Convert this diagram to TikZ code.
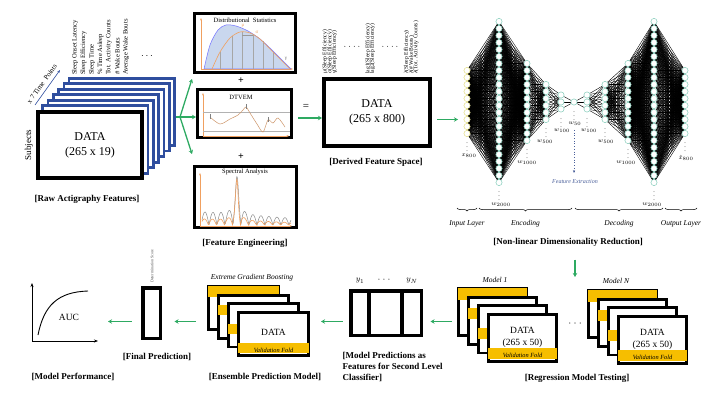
\documentclass[tikz,border=0pt]{standalone}
\usepackage{fontspec}
\setmainfont{Liberation Serif}
\usetikzlibrary{arrows.meta,calc,positioning,decorations.pathreplacing}
\pgfdeclarelayer{bg}
\pgfdeclarelayer{fg}
\pgfsetlayers{bg,main,fg}
\definecolor{arrowgreen}{HTML}{2EAA62}
\definecolor{stackblue}{HTML}{2F4E9E}
\definecolor{foldyellow}{HTML}{F6BE00}
\definecolor{nncyan}{HTML}{86CDBB}
\definecolor{nnyellow}{HTML}{E3DE84}
\definecolor{plotorange}{HTML}{F0A060}
\definecolor{plotblue}{HTML}{C9D7EE}
\definecolor{featblue}{HTML}{4A5F9A}
\tikzset{
    thickbox/.style={draw, line width=3.5pt, fill=white, inner sep=0pt},
    rawlayer/.style={draw=stackblue, line width=2.6pt, fill=white, inner sep=0pt, minimum width=105.4pt, minimum height=67.4pt},
    panel/.style={draw, line width=3pt, fill=white, inner sep=0pt},
    foldbox/.style={draw, line width=2.8pt, fill=white, inner sep=0pt},
    caption/.style={font=\bfseries\fontsize{9}{11}\selectfont},
    featlab/.style={rotate=90, anchor=west, inner sep=0pt, font=\fontsize{6.6}{7}\selectfont},
    derlab/.style={rotate=90, anchor=west, inner sep=0pt, font=\fontsize{5.6}{6}\selectfont},
    garrow/.style={draw=arrowgreen, line width=1.3pt, -{Stealth[length=4pt,width=4.5pt]}},
    neuron/.style={circle, draw=nncyan, fill=white, line width=0.5pt, minimum size=6.2pt, inner sep=0pt},
    inneuron/.style={neuron, draw=nnyellow},
    edge/.style={line width=0.4pt, black},
    layerlab/.style={inner sep=0pt, font=\fontsize{6}{7}\selectfont},
    bracelab/.style={font=\itshape\fontsize{7.5}{9}\selectfont},
    ax/.style={draw=plotorange, line width=0.5pt, -{Stealth[length=2.5pt]}},
    smalltitle/.style={inner sep=0pt, font=\fontsize{6.5}{7}\selectfont},
    foldlab/.style={inner sep=0pt, font=\itshape\fontsize{6.3}{7}\selectfont},
    modellab/.style={font=\itshape\fontsize{7.5}{8}\selectfont},
}

\begin{document}
\begin{tikzpicture}[x=1pt,y=-1pt]
    \useasboundingbox (0,0) rectangle (720,393);

    % raw actigraphy features
    \foreach \k in {6,5,...,1}
        \node[rawlayer] (raw\k) at ({90+5.3*\k},{145-5.5*\k}) {};
    \node[thickbox, line width=4pt, minimum width=104pt, minimum height=66pt, align=center, font=\fontsize{12}{15}\selectfont] (raw) at (90,145) {DATA\\(265 x 19)};
    \foreach \lab [count=\i] in {Sleep Onset Latency, Sleep Efficiency, Sleep Time, \% Time Asleep, Tot. Activity Counts, \# Wake Bouts, Average Wake Bouts}
        \node[featlab] (feat\i) at ({66.5+8.5*\i},75) {\lab};
    \node[font=\fontsize{10}{10}\selectfont] (rawdots) at (147,56) {$\cdots$};
    \node[rotate=90, font=\fontsize{9}{10}\selectfont] (subj) at (29,145) {Subjects};
    \draw[stackblue, line width=0.6pt, -{Stealth[length=3pt]}] ($(raw.north west)+(-1,-5)$) -- ++(25,-35);
    \node[rotate=54.5, font=\fontsize{7}{8}\selectfont] (tpts) at (42,84) {x 7 Time\ \ Points};
    \node[caption] (rawcap) at (87,199) {[Raw Actigraphy Features]};

    % feature engineering
    \node[panel, minimum width=101pt, minimum height=59pt] (dist) at (245,43) {};
    \node[panel, minimum width=94pt, minimum height=48pt] (dtv) at (244.5,113.5) {};
    \node[panel, minimum width=102pt, minimum height=61pt] (spec) at (245.5,197) {};

    \draw[ax] (201,69) -- (201,18);
    \draw[ax] (201,69) -- (293,69);
    \filldraw[fill=plotblue, draw=blue!55, line width=0.5pt] plot[smooth] coordinates {(204,69) (210,45) (218,30) (226,25) (236,26) (248,31) (260,39) (272,50) (283,61) (291,69)} -- cycle;
    \foreach \vx/\vy in {220/52,232/36,242/32,253/34,263/41,273/52}
        \draw[black!35, line width=0.4pt] (\vx,69) -- (\vx,\vy);
    \draw[plotorange, line width=0.6pt] plot[smooth] coordinates {(212,69) (220,52) (230,38) (240,32) (250,33) (260,39) (272,51) (283,62) (290,69)};
    \draw[black!40, line width=0.4pt] (242,35) -- (253,35);
    \node[inner sep=0pt, text=plotorange, font=\fontsize{5}{5}\selectfont] (mu) at (243,26) {μ};
    \node[inner sep=0pt, text=plotorange, font=\fontsize{5}{5}\selectfont] (sig) at (257,32) {σ};
    \node[inner sep=0pt, text=black!60, font=\fontsize{5}{5}\selectfont] (gam) at (286,59) {γ};
    \node[smalltitle] (distT) at (245,20) {Distributional\ \ Statistics};

    \draw[ax] (203,136) -- (203,93);
    \draw[ax] (203,136) -- (289,136);
    \draw[black!30, line width=0.4pt] (203,112) -- (290,112);
    \draw[black!30, line width=0.4pt] (203,131) -- (290,131);
    \draw[plotorange!70!gray, line width=0.5pt] plot[smooth] coordinates {(210,117) (220,124) (230,119) (238,115) (243,110) (246,107) (250,113) (257,124) (263,132) (268,120) (273,123) (278,118) (285,127)};
    \foreach \tx/\ty in {210/117,246/107,268/120}
        \draw[black!50, line width=0.4pt] (\tx,\ty-2.5) -- (\tx,\ty+2.5);
    \node[smalltitle] (dtvT) at (241,97) {DTVEM};

    \draw[ax] (200,226) -- (200,173);
    \draw[ax] (200,226) -- (292,226);
    \draw[black!45, line width=0.5pt] plot[domain=202:291, samples=200, smooth] (\x,{225-(13-0.07*(\x-202)+38/(1+((\x-237)/2.5)^2))*abs(sin(22.5*(\x-201)))});
    \draw[plotorange, line width=0.6pt] plot[domain=202:291, samples=200, smooth] (\x,{225-(6-0.04*(\x-202)+42/(1+((\x-237)/2)^2))*abs(sin(22.5*(\x-201)+12))});
    \node[smalltitle] (specT) at (245,172) {Spectral Analysis};

    \node[font=\bfseries\fontsize{10}{10}\selectfont] (plus1) at (241,81) {+};
    \node[font=\bfseries\fontsize{10}{10}\selectfont] (plus2) at (241,157) {+};
    \node[caption] (fecap) at (245,243) {[Feature Engineering]};

    \coordinate (fork) at (180,117);
    \draw[draw=arrowgreen, line width=1.3pt] (raw6.east |- fork) -- (fork);
    \draw[garrow] (fork) -- ($(dist.south west)+(-1,5)$);
    \draw[garrow] (fork) -- (dtv.west |- fork);
    \draw[garrow] (fork) -- ($(spec.north west)+(-1,-11)$);

    % derived feature space
    \node[thickbox, line width=4pt, minimum width=106pt, minimum height=67pt, align=center, font=\fontsize{12}{15}\selectfont] (der) at (377,112.5) {DATA\\(265 x 800)};
    \foreach \lab/\lx [count=\i] in {μ(Sleep Efficiency)/325, σ(Sleep Efficiency)/330, γ(Sleep Efficiency)/334.5, lag1(Sleep Efficiency)/368, lag2(Sleep Efficiency)/372.5, λ(Sleep Efficiency)/406.5, λ(\# Wake Bouts)/411.5, λ(Tot. Activity Counts)/416}
        \node[derlab] (dlab\i) at (\lx,74) {\lab};
    \node[font=\fontsize{8}{8}\selectfont] (ddots1) at (352,48) {·\ ·\ ·\ ·};
    \node[font=\fontsize{8}{8}\selectfont] (ddots2) at (390,48) {·\ ·\ ·\ ·};
    \node[font=\fontsize{11}{11}\selectfont] (eq) at (306,107) {=};
    \coordinate (eqrow) at (0,118);
    \draw[garrow, shorten <=5pt] (dtv.east |- eqrow) -- (der.west |- eqrow);
    \node[caption] (dercap) at (376,162) {[Derived Feature Space]};

    % autoencoder
    \foreach \l/\lx/\ln/\lsty/\lname/\ldx/\ldy in {0/467/10/inneuron/{x_{800}}/2/22, 1/499/24/neuron/{w_{2000}}/2/22, 2/527/12/neuron/{w_{1000}}/0/22, 3/546/6/neuron/{w_{500}}/-1/22, 4/561/3/neuron/{w_{100}}/1/22, 5/574/1/neuron/{w_{50}}/1/22, 6/587/3/neuron/{w_{100}}/2/22, 7/605/6/neuron/{w_{500}}/1/22, 8/628/12/neuron/{w_{1000}}/-2/22, 9/654/24/neuron/{w_{2000}}/-2/22, 10/685/10/neuron/{\hat{x}_{800}}/1/24} {
        \foreach \i in {1,...,\ln}
            \node[\lsty] (n\l-\i) at (\lx,{102+(\i-(\ln+1)/2)*7}) {};
        \node[layerlab] (dots\l) at (\lx,{102+(\ln-1)*3.5+11}) {$\vdots$};
        \node[layerlab] (lab\l) at ({\lx+\ldx},{102+(\ln-1)*3.5+\ldy}) {$\lname$};
    }
    \begin{pgfonlayer}{bg}
        \foreach \a/\na/\b/\nb in {0/10/1/24, 1/24/2/12, 2/12/3/6, 3/6/4/3, 4/3/5/1, 5/1/6/3, 6/3/7/6, 7/6/8/12, 8/12/9/24, 9/24/10/10}
            \foreach \i in {1,...,\na}
                \foreach \j in {1,...,\nb}
                    \draw[edge] (n\a-\i) -- (n\b-\j);
    \end{pgfonlayer}
    \draw[featblue, dotted, line width=0.7pt, -{Stealth[length=3pt]}] ($(n5-1)+(0,28)$) -- ($(n5-1)+(0,71)$);
    \node[inner sep=0pt, text=featblue, font=\itshape\fontsize{6}{7}\selectfont] (fext) at (575,182) {Feature Extraction};
    \foreach \bx/\ex/\lab [count=\i] in {457/477/Input Layer, 479/572/Encoding, 575/663/Decoding, 665/697/Output Layer} {
        \draw[decorate, decoration={brace, mirror, amplitude=3pt}, line width=0.5pt] (\bx,208) -- (\ex,208);
        \node[bracelab] (blab\i) at ({(\bx+\ex)/2},224) {\lab};
    }
    \node[caption] (nldr) at (568,242) {[Non-linear Dimensionality Reduction]};
    \draw[garrow, shorten <=5pt] (der.east |- n0-8) -- ($(n0-8)+(-9,0)$);

    % regression model testing
    \foreach \k in {0,...,3} {
        \node[foldbox, minimum width=68.2pt, minimum height=47.2pt] (ma\k) at ({492.5+10*\k},{312+8.7*\k}) {};
        \fill[foldyellow] ($(ma\k.north west)+(1.4,{1.4+11.1*\k})$) rectangle ($(ma\k.north east)+(-1.4,{1.4+11.1*(\k+1)})$);
    }
    \foreach \k in {0,...,3} {
        \node[foldbox, minimum width=68.2pt, minimum height=47.2pt] (mn\k) at ({622.5+10*\k},{314+8.7*\k}) {};
        \fill[foldyellow] ($(mn\k.north west)+(1.4,{1.4+11.1*\k})$) rectangle ($(mn\k.north east)+(-1.4,{1.4+11.1*(\k+1)})$);
    }
    \node[align=center, inner sep=0pt, font=\fontsize{9.5}{12}\selectfont] (datama) at ($(ma3)+(0,-1)$) {DATA\\(265 x 50)};
    \node[foldlab] (valma) at ($(ma3.south)+(0,-7.5)$) {Validation Fold};
    \node[align=center, inner sep=0pt, font=\fontsize{9.5}{12}\selectfont] (datamn) at ($(mn3)+(0,-1)$) {DATA\\(265 x 50)};
    \node[foldlab] (valmn) at ($(mn3.south)+(0,-7.5)$) {Validation Fold};
    \node[modellab] (m1lab) at (495,280) {Model 1};
    \node[modellab] (mnlab) at (616,281) {Model N};
    \node[font=\fontsize{9}{9}\selectfont] (mdots) at (575,325) {·\ ·\ ·};
    \node[caption] (regcap) at (577,378) {[Regression Model Testing]};
    \coordinate (regin) at (575,277);
    \draw[garrow, shorten <=10pt] (nldr.south -| regin) -- (regin);

    % model predictions
    \node[thickbox, minimum width=70.5pt, minimum height=44.5pt] (pred) at (386,313) {};
    \draw[line width=3.5pt] ($(pred.north)+(-17,0)$) -- ($(pred.south)+(-17,0)$);
    \draw[line width=3.5pt] ($(pred.north)+(16,0)$) -- ($(pred.south)+(16,0)$);
    \node[font=\fontsize{8.5}{9}\selectfont] (y1) at (360,281) {$y_1$};
    \node[font=\fontsize{8.5}{9}\selectfont] (ydots) at (384,281) {·\ ·\ ·};
    \node[font=\fontsize{8.5}{9}\selectfont] (yN) at (412,281) {$y_N$};
    \node[caption, align=left, anchor=west] (predcap) at (339,367) {[Model Predictions as\\Features for Second Level\\Classifier]};

    % ensemble model
    \foreach \k in {0,...,3} {
        \node[foldbox, minimum width=70.2pt, minimum height=43.2pt] (ea\k) at ({243.5+10*\k},{308+8.7*\k}) {};
        \fill[foldyellow] ($(ea\k.north west)+(1.4,{1.4+10.1*\k})$) rectangle ($(ea\k.north east)+(-1.4,{1.4+10.1*(\k+1)})$);
    }
    \node[inner sep=0pt, font=\fontsize{9.5}{12}\selectfont] (dataea) at ($(ea3)+(0,-2)$) {DATA};
    \node[foldlab] (valea) at ($(ea3.south)+(0,-6.8)$) {Validation Fold};
    \node[modellab] (xgb) at (252,278) {Extreme Gradient Boosting};
    \node[caption] (enscap) at (265,377) {[Ensemble Prediction Model]};

    % final prediction and performance
    \node[thickbox, minimum width=17.5pt, minimum height=50.5pt] (final) at (151.5,313) {};
    \node[rotate=90, anchor=west, inner sep=0pt, text=black!70, font=\fontsize{4}{5}\selectfont] (dscore) at (152,283) {Determination Score};
    \node[caption] (fincap) at (157,357) {[Final Prediction]};
    \coordinate (o) at (32,341);
    \draw[line width=0.9pt, -{Stealth[length=4pt]}] (o) -- (32,283);
    \draw[line width=0.9pt, -{Stealth[length=4pt]}] (o) -- (98,341);
    \draw[line width=0.9pt] (38,335) .. controls (44,305) and (58,292) .. (88,291);
    \node[font=\fontsize{9.5}{10}\selectfont] (auc) at (69,317) {AUC};
    \node[caption] (perfcap) at (73,377) {[Model Performance]};

    % arrows along the bottom row
    \coordinate (row) at (0,321.5);
    \coordinate (aucR) at (98,321.5);
    \draw[garrow, shorten <=5pt, shorten >=7.5pt] (ma0.west |- row) -- (pred.east |- row);
    \draw[garrow, shorten <=6.5pt, shorten >=11pt] (pred.west |- row) -- (ea3.east |- row);
    \draw[garrow, shorten <=11pt, shorten >=12.5pt] (ea0.west |- row) -- (final.east |- row);
    \draw[garrow, shorten <=9.5pt, shorten >=10pt] (final.west |- row) -- (aucR);
\end{tikzpicture}
\end{document}
